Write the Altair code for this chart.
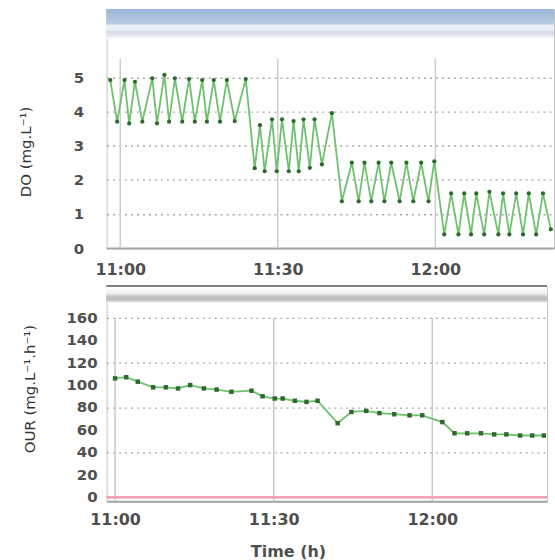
import altair as alt
import pandas as pd

# ---------------- data (minutes after 11:00) ----------------
do_minutes = [-1.9, -0.6, 0.8, 1.7, 2.8, 4.2, 6.1, 7.0, 8.4, 9.3, 10.4, 11.8, 13.1, 14.2,
              15.6, 16.5, 17.8, 19.0, 20.3, 21.8, 23.9,
              25.6, 26.6, 27.5, 28.9, 29.8, 30.8, 32.1, 33.0, 34.0, 34.9, 36.1, 37.0, 38.4, 40.3,
              42.2, 44.1, 45.4, 46.5, 47.8, 49.2, 50.3, 51.6, 53.2, 54.5, 55.8, 57.3, 58.7, 59.8,
              61.7, 63.0, 64.4, 65.5, 66.8, 67.8, 69.3, 70.3, 72.0, 72.9, 74.1, 75.4, 76.7,
              77.8, 79.2, 80.5, 82.0]
do_values = [4.92, 3.7, 4.92, 3.65, 4.87, 3.7, 4.97, 3.65, 5.07, 3.7, 4.97, 3.7, 4.95, 3.7,
             4.92, 3.7, 4.92, 3.7, 4.92, 3.72, 4.95,
             2.34, 3.6, 2.25, 3.77, 2.25, 3.77, 2.25, 3.72, 2.25, 3.77, 2.35, 3.77, 2.45, 3.95,
             1.37, 2.5, 1.37, 2.5, 1.37, 2.5, 1.37, 2.5, 1.37, 2.5, 1.37, 2.5, 1.37, 2.54,
             0.4, 1.6, 0.4, 1.6, 0.4, 1.6, 0.4, 1.65, 0.4, 1.6, 0.4, 1.6, 0.4,
             1.6, 0.4, 1.6, 0.55]

our_minutes = [0.0, 2.1, 4.3, 7.2, 9.6, 11.9, 14.2, 16.8, 19.2, 22.0, 25.8, 27.9, 30.2,
               31.7, 34.0, 36.2, 38.3, 42.1, 44.7, 47.5, 50.0, 52.8, 55.7, 58.1, 61.9,
               64.2, 66.6, 69.2, 71.7, 74.0, 76.6, 78.9, 81.1]
our_values = [106, 107, 103, 98, 98, 97, 100, 97, 96, 94, 95, 90, 88,
              88, 86, 85, 86, 66, 76, 77, 75, 74, 73, 73, 67,
              57, 57, 57, 56, 56, 55, 55, 55]

tick_minutes = [0, 30, 60]
tick_labels = ["11:00", "11:30", "12:00"]
do_ticks = [0, 1, 2, 3, 4, 5]
our_ticks = [0, 20, 40, 60, 80, 100, 120, 140, 160]

# ---------------- style ----------------
FONT = "DejaVu Sans"
LINE = "#6fc06f"
MARK = "#2c6b2c"
LABEL = "#4f4f4f"
TOP_W, TOP_H = 449, 240
BOT_W, BOT_H = 442, 216

label_expr = "''"
for m, lab in zip(reversed(tick_minutes), reversed(tick_labels)):
    label_expr = f"datum.value == {m} ? '{lab}' : ({label_expr})"

do_df = pd.DataFrame({"t": do_minutes, "v": do_values})
our_df = pd.DataFrame({"t": our_minutes, "v": our_values})
grid_df = pd.DataFrame({"t": tick_minutes})
our_tick_df = pd.DataFrame({"v": our_ticks})


def x_axis(pad, title=None, **kw):
    return alt.Axis(values=tick_minutes, labelExpr=label_expr, title=title, grid=False,
                    ticks=False, tickSize=0, domainColor="#a3a3a3", domainWidth=2,
                    labelFont=FONT, labelFontSize=16, labelFontWeight="bold",
                    labelColor=LABEL, labelPadding=pad, labelOverlap=False, **kw)


def y_axis(values, title, pad, tx, ty, labels=True):
    return alt.Axis(values=values, title=title, grid=True, gridColor="#a8a8a8",
                    gridDash=[2, 4], gridWidth=1.3, ticks=False, tickSize=0, domain=False,
                    labels=labels,
                    labelFont=FONT, labelFontSize=15, labelFontWeight="bold",
                    labelColor=LABEL, labelPadding=pad, labelOverlap=False,
                    titleFont=FONT, titleFontSize=15, titleFontWeight="normal",
                    titleColor="#333333", titleAngle=270, titleAlign="center",
                    titleBaseline="middle", titleX=tx, titleY=ty)


# ---------------- top panel: DO ----------------
top_xs = alt.Scale(domain=[-2.6, 82.6], nice=False, zero=False)
top_ys = alt.Scale(domain=[0, 7.0], nice=False, zero=False)
top_x = alt.X("t:Q", scale=top_xs, axis=x_axis(13))
top_y = alt.Y("v:Q", scale=top_ys, axis=y_axis(do_ticks, "DO (mg.L⁻¹)", 23, -81, 143))

top_vgrid = alt.Chart(grid_df).mark_rule(color="#cdcdcd", strokeWidth=1.5).encode(
    x=top_x, y=alt.datum(0), y2=alt.datum(5.55))
top_line = alt.Chart(do_df).mark_line(color=LINE, strokeWidth=1.8).encode(x=top_x, y=top_y)
top_pts = alt.Chart(do_df).mark_circle(color=MARK, size=18, opacity=1).encode(x=top_x, y=top_y)
top_banner = alt.Chart(grid_df).mark_rect(
    color={"gradient": "linear", "x1": 0, "x2": 0, "y1": 0, "y2": 1,
           "stops": [{"offset": 0, "color": "#9ab6d8"},
                     {"offset": 0.5, "color": "#b8cbe2"},
                     {"offset": 0.54, "color": "#eef3f9"},
                     {"offset": 0.7, "color": "#e8ecf3"},
                     {"offset": 0.76, "color": "#d7dbe5"},
                     {"offset": 0.9, "color": "#e4e7ed"},
                     {"offset": 1.0, "color": "#ffffff"}]}
).encode(x=alt.value(0), x2=alt.value(TOP_W), y=alt.value(0), y2=alt.value(30))

top = alt.layer(top_vgrid, top_line, top_pts, top_banner).properties(width=TOP_W, height=TOP_H)

# ---------------- bottom panel: OUR ----------------
bot_xs = alt.Scale(domain=[-1.6, 81.7], nice=False, zero=False)
bot_ys = alt.Scale(domain=[-3.6, 188.4], nice=False, zero=False)
bot_x = alt.X("t:Q", scale=bot_xs,
              axis=x_axis(10, "Time (h)", titleFont=FONT, titleFontSize=16,
                          titleFontWeight="bold", titleColor=LABEL, titleX=182, titleY=50,
                          titleAlign="center", titleBaseline="middle"))
bot_y = alt.Y("v:Q", scale=bot_ys,
              axis=y_axis(our_ticks, "OUR (mg.L⁻¹.h⁻¹)", 9, -77, 103, labels=False))

bot_vgrid = alt.Chart(grid_df).mark_rule(color="#c9c9c9", strokeWidth=1.5).encode(
    x=bot_x, y=alt.datum(-3.6), y2=alt.datum(160))
bot_zero = alt.Chart(grid_df).mark_rule(color="#f2a3b3", strokeWidth=2).encode(y=alt.datum(0))
bot_line = alt.Chart(our_df).mark_line(color=LINE, strokeWidth=1.8).encode(x=bot_x, y=bot_y)
bot_pts = alt.Chart(our_df).mark_square(color=MARK, size=20, opacity=1).encode(x=bot_x, y=bot_y)
bot_labels = alt.Chart(our_tick_df).mark_text(
    align="right", baseline="middle", font=FONT, fontSize=15, fontWeight="bold", color=LABEL
).encode(x=alt.value(-9), y=bot_y, text=alt.Text("v:Q", format="d"))
bot_banner = alt.Chart(grid_df).mark_rect(
    color={"gradient": "linear", "x1": 0, "x2": 0, "y1": 0, "y2": 1,
           "stops": [{"offset": 0, "color": "#ffffff"},
                     {"offset": 0.4, "color": "#f0f0f0"},
                     {"offset": 0.6, "color": "#c4c4c4"},
                     {"offset": 0.8, "color": "#bcbcbc"},
                     {"offset": 0.95, "color": "#e6e6e6"},
                     {"offset": 1.0, "color": "#ffffff"}]}
).encode(x=alt.value(0), x2=alt.value(BOT_W), y=alt.value(1), y2=alt.value(17))
bot_border = alt.Chart(grid_df).mark_rule(color="#7c7c7c", strokeWidth=1.5).encode(
    x=alt.value(0), x2=alt.value(BOT_W), y=alt.value(0))

bottom = alt.layer(bot_vgrid, bot_zero, bot_line, bot_pts, bot_labels, bot_banner,
                   bot_border).properties(width=BOT_W, height=BOT_H)

chart = alt.vconcat(top, bottom, spacing=6).resolve_scale(
    x="independent", y="independent"
).properties(
    padding={"left": 18, "top": 7, "right": 0, "bottom": 0},
    background="white",
).configure_view(stroke="#c4c4c4", strokeWidth=1)

chart.save("out.html", embed_options={"renderer": "svg", "actions": False})
